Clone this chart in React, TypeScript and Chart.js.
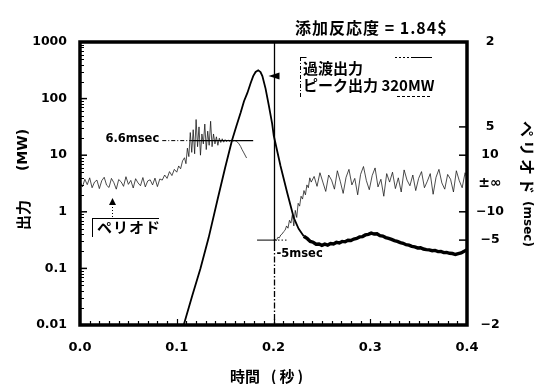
import React, { useEffect, useRef } from "react";
import { Chart, registerables } from "chart.js";

Chart.register(...registerables);

// ---- tick values / labels ----
const timeTicks = [0, 0.1, 0.2, 0.3, 0.4];
const timeTickLabels = ["0.0", "0.1", "0.2", "0.3", "0.4"];
const powerTicks = [1000, 100, 10, 1, 0.1, 0.01];
const powerTickLabels = ["1000", "100", "10", "1", "0.1", "0.01"];
// right axis: inverse period (1/s); labels are the period in msec
const periodTicks = [500, 200, 100, 0, -100, -200, -500];
const periodTickLabels = ["2", "5", "10", "±∞", "−10", "−5", "−2"];

// ---- texts / annotation values ----
const titleText = "添加反応度 = 1.84$";
const MARK_TIME = 0.2; // s
const POS_PERIOD_MS = 6.6;
const NEG_PERIOD_MS = -5;
const PEAK_MW = 320;
const PEAK_ARROW_MW = 250;

// ---- transient power (MW) : [time s, power MW] ----
const powerExcursion: [number, number][] = [
  [0.1072, 0.01], [0.116, 0.033], [0.1245, 0.1], [0.133, 0.35], [0.142, 1.6],
  [0.15, 6.0], [0.157, 18], [0.1615, 32], [0.166, 56], [0.1695, 90],
  [0.173, 126], [0.1765, 190], [0.179, 250], [0.1815, 295], [0.1842, 316],
  [0.1866, 295], [0.1885, 250], [0.1918, 150], [0.1952, 75], [0.1986, 36],
  [0.2003, 22], [0.2072, 6.5], [0.2141, 2.2], [0.221, 0.78], [0.226, 0.5],
  [0.2313, 0.37],
];
const powerTail: [number, number][] = [
  [0.2313, 0.37], [0.235, 0.335], [0.238, 0.3], [0.241, 0.29], [0.244, 0.268],
  [0.247, 0.27], [0.25, 0.255], [0.253, 0.268], [0.256, 0.258], [0.259, 0.275],
  [0.262, 0.27], [0.265, 0.288], [0.268, 0.282], [0.271, 0.3], [0.274, 0.295],
  [0.277, 0.315], [0.28, 0.312], [0.283, 0.33], [0.286, 0.338], [0.289, 0.36],
  [0.292, 0.365], [0.295, 0.39], [0.298, 0.4], [0.301, 0.42], [0.304, 0.405],
  [0.307, 0.41], [0.31, 0.38], [0.313, 0.372], [0.316, 0.35], [0.319, 0.338],
  [0.322, 0.325], [0.325, 0.31], [0.328, 0.3], [0.331, 0.285], [0.334, 0.278],
  [0.337, 0.262], [0.34, 0.258], [0.343, 0.245], [0.346, 0.24], [0.349, 0.23],
  [0.352, 0.232], [0.355, 0.22], [0.358, 0.215], [0.361, 0.212], [0.364, 0.205],
  [0.367, 0.208], [0.37, 0.198], [0.373, 0.2], [0.376, 0.19], [0.379, 0.192],
  [0.382, 0.185], [0.385, 0.183], [0.388, 0.176], [0.391, 0.182], [0.394, 0.188],
  [0.397, 0.2], [0.4, 0.215],
];

// ---- period, as inverse period (1/s) : [time s, 1/T] ----
const periodBefore: [number, number][] = [
  [0.0, 8], [0.0025, -12], [0.005, 15], [0.0075, -4], [0.01, 20], [0.0125, -15],
  [0.015, 5], [0.0175, 12], [0.02, -18], [0.0225, 10], [0.025, 22], [0.0275, -6],
  [0.03, -14], [0.0325, 18], [0.035, 3], [0.0375, -20], [0.04, 14], [0.0425, 6],
  [0.045, -10], [0.0475, 24], [0.05, -3], [0.0525, 11], [0.055, -16], [0.0575, 17],
  [0.06, 2], [0.0625, -8], [0.065, 21], [0.0675, -12], [0.07, 9], [0.0725, 13],
  [0.075, -5], [0.0775, 19], [0.08, -11], [0.0825, 16], [0.085, 12], [0.0875, 30],
  [0.09, 18], [0.0925, 42], [0.095, 28], [0.0975, 50], [0.1, 40], [0.102, 62],
  [0.104, 52], [0.106, 80], [0.108, 91], [0.1095, 70], [0.111, 125], [0.1125, 95],
  [0.114, 180], [0.1155, 110], [0.117, 190], [0.1185, 105], [0.12, 226], [0.1215, 130],
  [0.123, 200], [0.1245, 100], [0.126, 175], [0.1275, 140], [0.129, 210], [0.1305, 120],
  [0.132, 185], [0.1335, 135], [0.135, 220], [0.1365, 130], [0.138, 175], [0.1395, 140],
  [0.141, 165], [0.1425, 135], [0.144, 160], [0.1455, 145], [0.147, 158], [0.1485, 146],
  [0.15, 155], [0.1515, 148], [0.153, 154], [0.1545, 149], [0.156, 153], [0.158, 150],
  [0.16, 152], [0.162, 148], [0.164, 142], [0.166, 131], [0.1675, 120], [0.1694, 108],
  [0.1722, 90],
];
const periodAfter: [number, number][] = [
  [0.2, -200], [0.2015, -196], [0.203, -202], [0.2045, -190], [0.206, -192],
  [0.2075, -182], [0.209, -178], [0.2105, -170], [0.212, -165], [0.2135, -150],
  [0.215, -158], [0.2165, -130], [0.218, -140], [0.2195, -110], [0.221, -150],
  [0.2225, -95], [0.224, -120], [0.2255, -70], [0.227, -80], [0.2285, -45],
  [0.23, -55], [0.2315, -25], [0.233, -40], [0.2345, -5], [0.236, -15],
  [0.2375, 20], [0.239, 5], [0.242, 25], [0.245, -10], [0.248, 38], [0.251, 5],
  [0.254, -28], [0.257, 30], [0.26, 12], [0.263, -20], [0.266, 45], [0.269, 8],
  [0.272, -35], [0.275, 22], [0.278, 50], [0.281, -5], [0.284, 18], [0.287, -40],
  [0.29, 32], [0.293, 60], [0.296, 10], [0.299, -22], [0.302, 28], [0.305, 55],
  [0.308, -12], [0.311, 15], [0.314, -45], [0.317, 35], [0.32, 5], [0.323, 40],
  [0.326, -18], [0.329, 20], [0.332, -30], [0.335, 48], [0.338, 12], [0.341, -8],
  [0.344, 30], [0.347, -25], [0.35, 18], [0.353, 42], [0.356, -15], [0.359, 8],
  [0.362, 35], [0.365, -38], [0.368, 22], [0.371, 50], [0.374, 2], [0.377, -20],
  [0.38, 32], [0.383, 15], [0.386, -30], [0.389, 45], [0.392, 10], [0.395, -15],
  [0.398, 38], [0.4, 20],
];

const NUM = '"DejaVu Sans", sans-serif';
const JP = '"Noto Sans CJK JP", sans-serif';

const toXY = (arr: [number, number][]) => arr.map(([x, y]) => ({ x, y }));

const decoPlugin = {
  id: "deco",
  afterDraw(chart: any) {
    const { ctx, chartArea: a } = chart;
    const xs = chart.scales.x;
    const ys = chart.scales.y;
    const ps = chart.scales.y2;
    const X = (v: number) => xs.getPixelForValue(v);
    ctx.save();
    ctx.fillStyle = "#000";
    ctx.strokeStyle = "#000";
    const line = (x1: number, y1: number, x2: number, y2: number, w = 1, dash: number[] = []) => {
      ctx.beginPath();
      ctx.setLineDash(dash);
      ctx.lineWidth = w;
      ctx.moveTo(x1, y1);
      ctx.lineTo(x2, y2);
      ctx.stroke();
      ctx.setLineDash([]);
    };
    const text = (t: string, x: number, y: number, font: string, align = "left", spacing = "0px") => {
      ctx.font = font;
      (ctx as any).letterSpacing = spacing;
      ctx.textAlign = align;
      ctx.textBaseline = "middle";
      ctx.fillText(t, x, y);
      (ctx as any).letterSpacing = "0px";
    };
    const rotText = (t: string, x: number, y: number, ang: number, font: string, spacing = "0px") => {
      ctx.save();
      ctx.translate(x, y);
      ctx.rotate(ang);
      text(t, 0, 0, font, "center", spacing);
      ctx.restore();
    };

    // vertical marker line at MARK_TIME
    const mx = Math.round(X(MARK_TIME)) + 0.5;
    const yNeg = ps.getPixelForValue(1000 / NEG_PERIOD_MS);
    const yPos = ps.getPixelForValue(1000 / POS_PERIOD_MS);
    line(mx, a.top, mx, yNeg + 5, 1.3);
    line(mx, yNeg + 5, mx, a.bottom, 1.3, [6, 2, 1.5, 2]);

    // -5 msec reference
    line(X(0.183), yNeg, mx, yNeg, 1);
    line(mx, yNeg, X(0.215), yNeg, 1, [1.5, 2]);
    text("-5msec", mx + 2, yNeg + 14, `bold 11.5px ${NUM}`);

    // 6.6 msec reference
    line(X(0.085), yPos, X(0.116), yPos, 1, [4, 2, 1, 2]);
    line(X(0.116), yPos, X(0.179), yPos, 1.2);
    text("6.6msec", X(0.085) - 3, yPos - 1.5, `bold 11.5px ${NUM}`, "right");

    // peak arrow
    const ay = ys.getPixelForValue(PEAK_ARROW_MW);
    ctx.beginPath();
    ctx.moveTo(mx - 6, ay);
    ctx.lineTo(mx + 5, ay - 3.5);
    ctx.lineTo(mx + 5, ay + 3.5);
    ctx.closePath();
    ctx.fill();

    // legend box
    const bx = 300.5;
    line(bx, 57, bx, 97, 1, [4, 2, 1, 2]);
    line(bx, 57.5, bx + 6, 57.5, 1);
    line(395, 57.5, 412, 57.5, 1, [2, 2]);
    line(412, 57.5, 432, 57.5, 1);
    line(397, 96.5, 432, 96.5, 1, [3, 2]);
    text("過渡出力", 303, 68, `bold 15px ${JP}`);
    text(`ピーク出力 ${PEAK_MW}MW`, 303, 85, `bold 15px ${JP}`);

    // period label box
    line(92.5, 218, 92.5, 237, 1);
    line(92, 218.5, 159, 218.5, 1);
    text("ペリオド", 97, 227, `bold 15px ${JP}`, "left", "1px");
    ctx.beginPath();
    ctx.moveTo(112.5, 198);
    ctx.lineTo(116, 205);
    ctx.lineTo(109, 205);
    ctx.closePath();
    ctx.fill();
    line(112.5, 207, 112.5, 218, 1, [1, 2]);

    // frame
    ctx.lineWidth = 3.5;
    ctx.strokeRect(a.left, a.top, a.right - a.left, a.bottom - a.top);

    // left axis ticks (inward) and labels
    for (let d = 0.01; d < 1000; d *= 10) {
      for (let m = 2; m <= 9; m++) {
        const y = Math.round(ys.getPixelForValue(d * m)) + 0.5;
        line(a.left, y, a.left + 4, y, 1);
      }
    }
    powerTicks.forEach((v, i) => {
      const y = ys.getPixelForValue(v);
      line(a.left, y, a.left + 7, y, 1.5);
      text(powerTickLabels[i], 67, y, `bold 12.5px ${NUM}`, "right");
    });

    // bottom ticks
    for (let k = 1; k < 40; k++) {
      const x = Math.round(X(k * 0.01)) + 0.5;
      line(x, a.bottom, x, a.bottom - (k % 10 === 0 ? 6 : 4), 1.2);
    }
    timeTicks.forEach((v, i) => {
      text(timeTickLabels[i], X(v), 347.5, `bold 13px ${NUM}`, "center");
    });

    // right axis ticks and labels
    periodTicks.forEach((v, i) => {
      const y = ps.getPixelForValue(v);
      if (v !== 0 && Math.abs(v) < 500) line(a.right - 8, y, a.right, y, 1.5);
      const font = v === 0 ? `bold 14px ${NUM}` : `bold 12.5px ${NUM}`;
      text(periodTickLabels[i], 490, y, font, "center");
    });

    // titles
    text(titleText, 295, 28, `bold 16px ${JP}`, "left", "1px");
    text("時間", 245, 376, `bold 15px ${JP}`, "center");
    text("(秒)", 288.5, 376, `bold 15px ${JP}`, "center", "3px");
    rotText("出力", 23, 215, -Math.PI / 2, `bold 15px ${JP}`);
    rotText("(MW)", 23, 150, -Math.PI / 2, `bold 14px ${NUM}`);
    rotText("ペリオド", 527, 159, Math.PI / 2, `bold 16px ${JP}`, "3px");
    rotText("(msec)", 527.5, 224, Math.PI / 2, `bold 12px ${NUM}`);
    ctx.restore();
  },
};

export default function App() {
  const ref = useRef<HTMLCanvasElement>(null);
  useEffect(() => {
    const hidden = { display: false };
    const chart = new Chart(ref.current as HTMLCanvasElement, {
      type: "line",
      data: {
        datasets: [
          {
            data: toXY(periodBefore),
            yAxisID: "y2",
            borderColor: "#111",
            borderWidth: 0.75,
            pointRadius: 0,
            tension: 0,
          },
          {
            data: toXY(periodAfter),
            yAxisID: "y2",
            borderColor: "#111",
            borderWidth: 0.75,
            pointRadius: 0,
            tension: 0,
          },
          {
            data: toXY(powerExcursion),
            yAxisID: "y",
            borderColor: "#000",
            borderWidth: 1.8,
            pointRadius: 0,
            tension: 0,
          },
          {
            data: toXY(powerTail),
            yAxisID: "y",
            borderColor: "#000",
            borderWidth: 3.4,
            pointRadius: 0,
            tension: 0,
          },
        ],
      } as any,
      options: {
        responsive: false,
        animation: false,
        devicePixelRatio: 1,
        layout: { padding: { top: 42, left: 0, right: 0, bottom: 0 } },
        plugins: { legend: hidden, tooltip: { enabled: false }, title: hidden },
        scales: {
          x: {
            type: "linear",
            min: 0,
            max: 0.4,
            position: "bottom",
            grid: hidden,
            border: hidden,
            ticks: hidden,
            afterFit: (s: any) => { s.height = 59; },
          },
          y: {
            type: "logarithmic",
            min: 0.01,
            max: 1000,
            position: "left",
            grid: hidden,
            border: hidden,
            ticks: hidden,
            afterFit: (s: any) => { s.width = 80; },
          },
          y2: {
            type: "linear",
            min: -500,
            max: 500,
            position: "right",
            grid: hidden,
            border: hidden,
            ticks: hidden,
            afterFit: (s: any) => { s.width = 89; },
          },
        },
      } as any,
      plugins: [decoPlugin],
    });
    return () => chart.destroy();
  }, []);
  return (
    <div style={{ position: "absolute", left: 0, top: 0, width: 556, height: 384, background: "#fff" }}>
      <canvas ref={ref} width={556} height={384} style={{ display: "block", width: 556, height: 384 }} />
    </div>
  );
}
